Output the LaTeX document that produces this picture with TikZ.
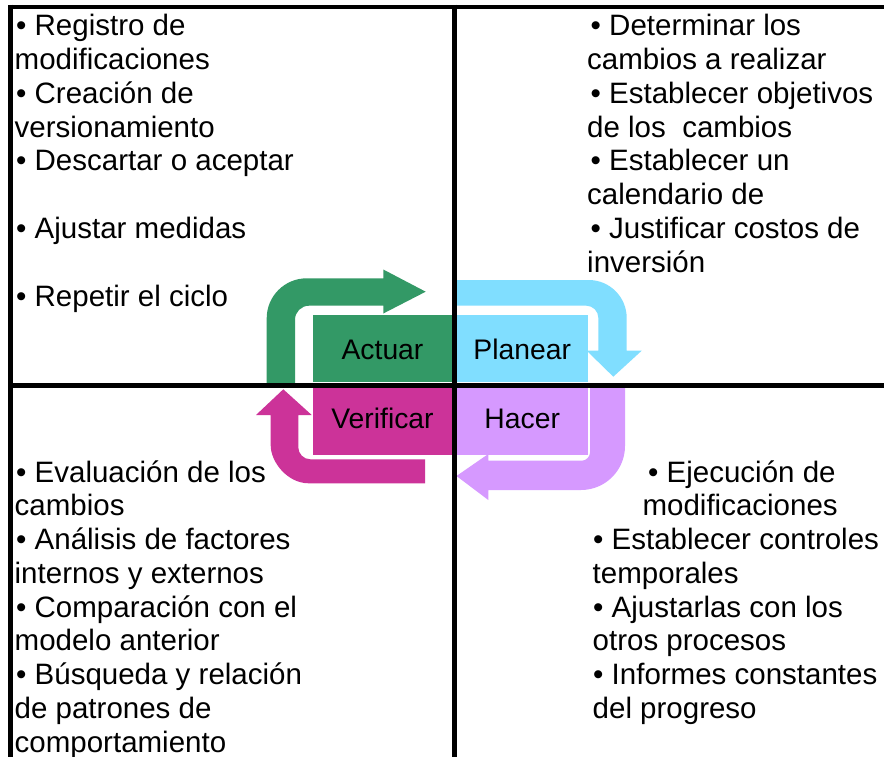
\documentclass[tikz,border=0pt]{standalone}
\usepackage{fontspec}
\setmainfont{Liberation Sans}
\definecolor{actgreen}{RGB}{51,153,102}
\definecolor{planblue}{RGB}{128,222,255}
\definecolor{hacpurple}{RGB}{214,153,255}
\definecolor{vermag}{RGB}{204,51,153}
\begin{document}
\begin{tikzpicture}[x=1pt,y=-1pt,
  txt/.style={anchor=base west, inner sep=0pt, font=\fontsize{29.5}{33.75}\selectfont},
  quad/.style={inner sep=0pt, anchor=center, font=\fontsize{28.3}{33}\selectfont, text depth=0pt},
  upper/.style={quad, minimum height=66.7pt, text height=22pt},
  lower/.style={quad, minimum height=67.3pt, text height=14pt},
  frame/.style={line width=4.5pt, black},
  axis/.style={line width=5pt, black}]
\useasboundingbox (0,0) rectangle (884,757);
\fill[white] (0,0) rectangle (884,757);

% quadrant boxes
\node[upper, fill=actgreen, minimum width=138.4pt] (actuar) at (382.5,348.35) {Actuar};
\node[upper, fill=planblue, minimum width=131pt] (planear) at (522.2,348.35) {Planear};
\node[lower, fill=vermag, minimum width=138.4pt] (verificar) at (382.5,421.35) {Verificar};
\node[lower, fill=hacpurple, minimum width=131pt] (hacer) at (522.2,421.35) {Hacer};

% green arrow (Actuar -> Planear)
\fill[actgreen] (266.7,386) -- (266.7,318.3) .. controls (266.7,296.2) and (284.6,278.3) .. (306.7,278.3)
  -- (383.3,278.3) -- (383.3,269.5) -- (425.7,291.7) -- (383.3,313.5) -- (383.3,305.7)
  -- (309,305.7) .. controls (301.3,305.7) and (295,312) .. (295,319.7) -- (295,386) -- cycle;

% blue arrow (Planear -> Hacer)
\fill[planblue] (456,280) -- (588.7,280) .. controls (609.7,280) and (626.7,297) .. (626.7,318)
  -- (626.7,350.7) -- (641.7,350.7) -- (613.3,376.7) -- (586.7,350.7) -- (598.3,350.7)
  -- (598.3,317.7) .. controls (598.3,311.1) and (592.9,305.7) .. (586.3,305.7) -- (456,305.7) -- cycle;

% purple arrow (Hacer -> Verificar)
\fill[hacpurple] (625,386) -- (625,446) .. controls (625,470.3) and (605.3,490) .. (581,490)
  -- (488.3,490) -- (488.3,500) -- (456.5,476) -- (488.3,454) -- (488.3,460.7)
  -- (582,460.7) .. controls (586.4,460.7) and (590,456.3) .. (590,452.7) -- (590,386) -- cycle;

% magenta arrow (Verificar -> Actuar)
\fill[vermag] (425,483.3) -- (308.7,483.3) .. controls (287.7,483.3) and (270.7,462.3) .. (270.7,445.3)
  -- (270.7,415) -- (256,415) -- (283.3,389.3) -- (311.7,415) -- (298.3,415)
  -- (298.3,447.3) .. controls (298.3,453.9) and (303.7,459.3) .. (310.3,459.3) -- (425,459.3) -- cycle;

% frame and axes
\draw[frame] (8.25,7) -- (884,7);
\draw[frame] (10.5,4.75) -- (10.5,757);
\draw[axis] (8.25,385) -- (884,385);
\draw[axis] (454,4.75) -- (454,757);

% top-left texts
\node[txt] (tl1) at (16,36) {• Registro de};
\node[txt] (tl2) at (14.5,69.75) {modificaciones};
\node[txt] (tl3) at (16,103.5) {• Creación de};
\node[txt] (tl4) at (14.5,137.25) {versionamiento};
\node[txt] (tl5) at (16,171) {• Descartar o aceptar};
\node[txt] (tl6) at (16,238.8) {• Ajustar medidas};
\node[txt] (tl7) at (16,306.5) {• Repetir el ciclo};

% top-right texts
\node[txt] (tr1) at (590.5,36) {• Determinar los};
\node[txt] (tr2) at (587,69.75) {cambios a realizar};
\node[txt] (tr3) at (590.5,103.5) {• Establecer objetivos};
\node[txt] (tr4) at (587,137.25) {de los~ cambios};
\node[txt] (tr5) at (590.5,171) {• Establecer un};
\node[txt] (tr6) at (587,204.75) {calendario de};
\node[txt] (tr7) at (590.5,238.5) {• Justificar costos de};
\node[txt] (tr8) at (587,272.25) {inversión};

% bottom-left texts
\node[txt] (bl1) at (16,482) {• Evaluación de los};
\node[txt] (bl2) at (14.5,515.75) {cambios};
\node[txt] (bl3) at (16,549.5) {• Análisis de factores};
\node[txt] (bl4) at (14.5,583.25) {internos y externos};
\node[txt] (bl5) at (16,617) {• Comparación con el};
\node[txt] (bl6) at (14.5,650.75) {modelo anterior};
\node[txt] (bl7) at (16,684.5) {• Búsqueda y relación};
\node[txt] (bl8) at (14.5,718.25) {de patrones de};
\node[txt] (bl9) at (14.5,752) {comportamiento};

% bottom-right texts
\node[txt] (br1) at (648,482) {• Ejecución de};
\node[txt] (br2) at (642.4,515.75) {modificaciones};
\node[txt] (br3) at (593,549.5) {• Establecer controles};
\node[txt] (br4) at (592.5,583.25) {temporales};
\node[txt] (br5) at (593,617) {• Ajustarlas con los};
\node[txt] (br6) at (592.5,650.75) {otros procesos};
\node[txt] (br7) at (593,684.5) {• Informes constantes};
\node[txt] (br8) at (592.5,718.25) {del progreso};
\end{tikzpicture}
\end{document}
